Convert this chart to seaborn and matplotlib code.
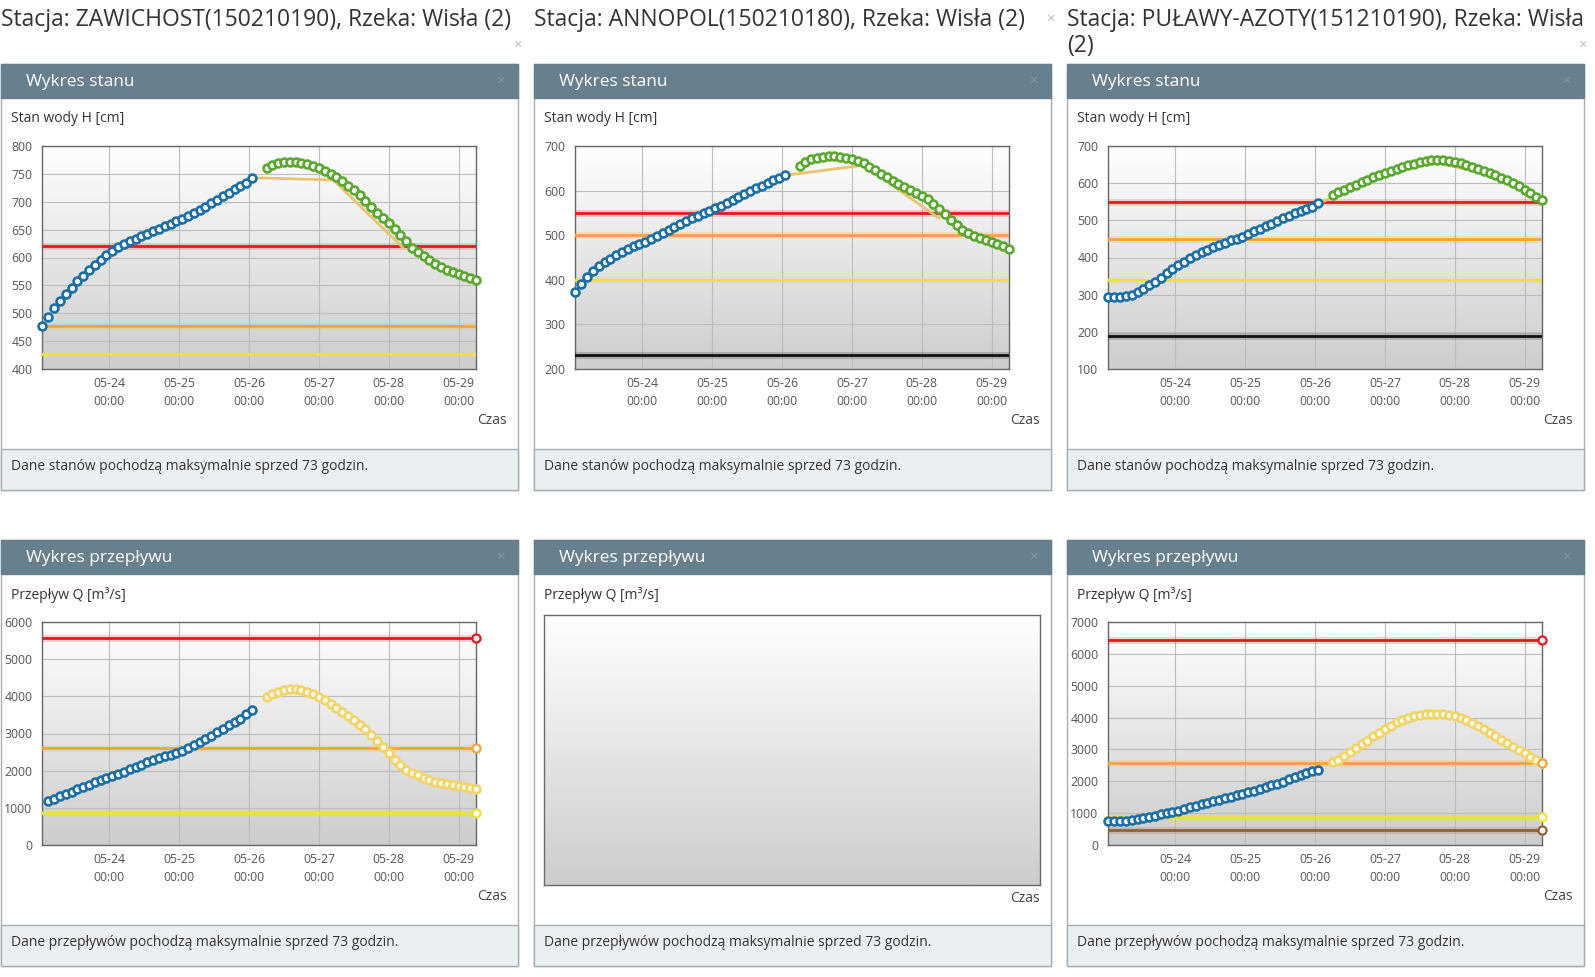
import numpy as np
import pandas as pd
import matplotlib
matplotlib.use("Agg")
import matplotlib.pyplot as plt
from matplotlib.patches import Rectangle
from matplotlib.colors import LinearSegmentedColormap
import seaborn as sns

sns.set_theme(style="white")
plt.rcParams['font.family'] = ['Open Sans', 'DejaVu Sans']

# ------------------------------
# Data (2-hourly samples, hours since 05-23 00:00)
# ------------------------------
T0 = pd.Timestamp("2019-05-23 00:00")
x_start = pd.Timestamp("2019-05-23 00:50")
x_end = pd.Timestamp("2019-05-29 06:00")
day_ticks = pd.date_range("2019-05-24", periods=6, freq="D")

stations = [
    "Stacja: ZAWICHOST(150210190), Rzeka: Wisła (2)",
    "Stacja: ANNOPOL(150210180), Rzeka: Wisła (2)",
    "Stacja: PUŁAWY-AZOTY(151210190), Rzeka: Wisła\n(2)",
]

# water level H [cm]
zaw_h_obs = [477, 493, 510, 522, 534, 546, 558, 567, 577, 587, 596, 604, 611,
             618, 624, 629, 634, 639, 643, 648, 652, 656, 660, 665, 669, 674,
             679, 685, 691, 697, 703, 710, 716, 722, 728, 734, 742]
zaw_h_fc = [760, 766, 770, 771, 772, 772, 770, 767, 764, 760, 755, 750, 744,
            737, 729, 721, 712, 701, 691, 680, 670, 662, 651, 640, 629, 617,
            609, 602, 595, 589, 583, 578, 574, 571, 567, 563, 560]
zaw_h_old_hours = [74, 101, 125]
zaw_h_old = [743, 739, 617]
zaw_h_levels = [620, 478, 427]

ann_h_obs = [372, 390, 407, 419, 430, 439, 447, 455, 462, 469, 475, 480, 485,
             492, 498, 505, 512, 519, 525, 532, 538, 544, 550, 555, 560, 566,
             572, 578, 585, 592, 599, 605, 611, 617, 623, 629, 635]
ann_h_fc = [655, 664, 670, 674, 676, 677, 677, 676, 674, 671, 667, 661, 654,
            646, 638, 630, 622, 614, 607, 601, 595, 589, 581, 571, 559, 547,
            534, 522, 512, 504, 498, 493, 489, 485, 480, 475, 470]
ann_h_old_hours = [74, 100, 126]
ann_h_old = [635, 657, 538]
ann_h_levels = [550, 500, 400, 232]

pul_h_obs = [295, 294, 294, 296, 300, 307, 316, 325, 335, 346, 357, 368, 379,
             389, 398, 406, 414, 421, 428, 434, 440, 446, 451, 456, 462, 470,
             477, 484, 491, 499, 506, 513, 519, 525, 531, 536, 546]
pul_h_fc = [568, 575, 582, 589, 596, 603, 609, 616, 622, 628, 633, 639, 644,
            648, 652, 656, 659, 661, 662, 661, 659, 656, 653, 648, 643, 638,
            633, 627, 621, 615, 609, 601, 592, 582, 573, 564, 555]
pul_h_old_hours = [74, 78, 96, 113, 132, 150]
pul_h_old = [548, 562, 624, 657, 622, 552]
pul_h_levels = [550, 451, 340, 188]

# discharge Q [m3/s]
zaw_q_obs = [1180, 1240, 1320, 1365, 1420, 1495, 1555, 1620, 1685, 1740, 1795,
             1845, 1920, 1975, 2040, 2100, 2160, 2225, 2280, 2330, 2385, 2430,
             2480, 2530, 2600, 2680, 2760, 2840, 2930, 3030, 3130, 3230, 3300,
             3400, 3520, 3640]
zaw_q_fc = [3980, 4070, 4130, 4170, 4190, 4195, 4170, 4130, 4070, 3990, 3900,
            3800, 3690, 3580, 3470, 3350, 3230, 3110, 2960, 2800, 2640, 2470,
            2290, 2140, 2030, 1945, 1870, 1800, 1745, 1700, 1670, 1640, 1610,
            1580, 1555, 1530, 1505]
zaw_q_levels = [5580, 2600, 850]

pul_q_obs = [740, 740, 745, 760, 785, 815, 850, 885, 920, 960, 1000, 1040, 1080,
             1130, 1180, 1230, 1280, 1330, 1380, 1420, 1460, 1500, 1560, 1610,
             1660, 1710, 1760, 1810, 1870, 1930, 1990, 2060, 2120, 2190, 2250,
             2310, 2360]
pul_q_fc = [2600, 2680, 2790, 2910, 3030, 3160, 3280, 3410, 3530, 3640, 3750,
            3850, 3930, 3990, 4040, 4075, 4100, 4120, 4120, 4100, 4070, 4040,
            3990, 3920, 3840, 3740, 3630, 3520, 3420, 3310, 3200, 3090, 2980,
            2880, 2770, 2660, 2570]
pul_q_levels = [6440, 2570, 890, 480]

# ------------------------------
# Colours
# ------------------------------
BLUE = "#1b6ea6"
GREEN = "#5aa92f"
FC_YELLOW = "#f1d46a"
TAN = "#e9c36e"
level_colors = ["#e31b1f", "#f2a53a", "#ede23c", "#111111"]
q_level_colors = ["#e31b1f", "#f2a53a", "#ede23c", "#8f6238"]
HEADER = "#687f8d"
FOOTER = "#eceff1"
BORDER = "#a4aeb5"
TEXT = "#333333"

W, H = 1595, 977
fig = plt.figure(figsize=(W / 100, H / 100), dpi=100)
fig.patch.set_facecolor("white")

pane = fig.add_axes([0, 0, 1, 1], zorder=0)
pane.set_xlim(0, W)
pane.set_ylim(H, 0)
pane.axis("off")

grad_cmap = LinearSegmentedColormap.from_list("bg", ["#ffffff", "#cdcdcd"])
grad = np.linspace(0, 1, 256).reshape(-1, 1)

PANEL_X = [0, 533, 1066]
PANEL_W = 518


def frect(x0, y0, x1, y1):
    return [x0 / W, 1 - y1 / H, (x1 - x0) / W, (y1 - y0) / H]


def to_time(start_h, n):
    return T0 + pd.to_timedelta(start_h + 2 * np.arange(n), unit="h")


def draw_panel(px, top, header, label, footer):
    pane.add_patch(Rectangle((px + 0.5, top), PANEL_W - 1, 426, fc="white",
                             ec=BORDER, lw=1))
    pane.add_patch(Rectangle((px + 0.5, top), PANEL_W - 1, 34, fc=HEADER, ec=HEADER, lw=1))
    pane.add_patch(Rectangle((px + 0.5, top + 385), PANEL_W - 1, 41, fc=FOOTER,
                             ec=BORDER, lw=1))
    pane.text(px + 26, top + 18, header, color="white", fontsize=12.4, va="center")
    pane.text(px + 500, top + 17, "×", color="#8698a4", fontsize=11, va="center", ha="center")
    pane.text(px + 11, top + 55, label, color=TEXT, fontsize=10, va="center")
    pane.text(px + 11, top + 403, footer, color=TEXT, fontsize=10, va="center")


def style_axes(ax, ylim, ystep):
    ax.set_xlim(x_start, x_end)
    ax.set_ylim(*ylim)
    ax.set_yticks(np.arange(ylim[0], ylim[1] + 1, ystep))
    ax.set_xticks(day_ticks)
    ax.set_xticklabels([d.strftime("%m-%d\n%H:%M") for d in day_ticks], linespacing=1.45)
    ax.grid(True, color="#bcbcbc", lw=0.8)
    ax.set_axisbelow(True)
    ax.tick_params(length=0, labelsize=8.8, labelcolor="#555555")
    ax.tick_params(axis="y", pad=7)
    ax.tick_params(axis="x", pad=6)
    for s in ax.spines.values():
        s.set_color("#666666")
        s.set_linewidth(1)
    ax.set_xlabel("")
    ax.set_ylabel("")


def draw_chart(px, top, obs, obs_start, fc, fc_edge, fc_face, levels, colors,
               ylim, ystep, old_hours=None, old=None, end_marks=False):
    rect = frect(px + 42, top + 82, px + 476, top + 305)
    bg = fig.add_axes(rect, zorder=1)
    bg.imshow(grad, aspect="auto", cmap=grad_cmap, extent=[0, 1, 0, 1])
    bg.axis("off")
    ax = fig.add_axes(rect, zorder=2)
    ax.patch.set_alpha(0)

    for v, c in zip(levels, colors):
        ax.axhline(v, color=c, lw=5, alpha=0.18, zorder=3)
        ax.axhline(v, color=c, lw=2, zorder=3)
        if end_marks:
            sns.scatterplot(x=[x_end], y=[v], ax=ax, marker="o", s=34, color="white",
                            edgecolor=c, linewidth=1.6, zorder=7, clip_on=False, legend=False)

    if old is not None:
        t_old = T0 + pd.to_timedelta(old_hours, unit="h")
        sns.lineplot(x=t_old, y=old, ax=ax, color=TAN, lw=2, zorder=4)

    t_obs = to_time(obs_start, len(obs))
    t_fc = to_time(78, len(fc))
    sns.scatterplot(x=t_fc, y=fc, ax=ax, marker="o", s=32, color=fc_face,
                    edgecolor=fc_edge, linewidth=1.9, zorder=5, clip_on=False, legend=False)
    sns.scatterplot(x=t_obs, y=obs, ax=ax, marker="o", s=32, color="white",
                    edgecolor=BLUE, linewidth=1.9, zorder=6, clip_on=False, legend=False)
    style_axes(ax, ylim, ystep)
    pane.text(px + 507, top + 356, "Czas", color="#444444", fontsize=10,
              va="center", ha="right")


# ------------------------------
# Station titles
# ------------------------------
for px, name in zip(PANEL_X, stations):
    for i, line in enumerate(name.split("\n")):
        pane.text(px + 1, 20 + 26 * i, line, color=TEXT, fontsize=16.5, va="center")
pane.text(517, 45, "×", color="#bbbbbb", fontsize=11, ha="center", va="center")
pane.text(1050, 19, "×", color="#bbbbbb", fontsize=11, ha="center", va="center")
pane.text(1582, 45, "×", color="#bbbbbb", fontsize=11, ha="center", va="center")

# ------------------------------
# Water level panels
# ------------------------------
TOP1, TOP2 = 64, 540
h_footer = "Dane stanów pochodzą maksymalnie sprzed 73 godzin."
q_footer = "Dane przepływów pochodzą maksymalnie sprzed 73 godzin."
for px in PANEL_X:
    draw_panel(px, TOP1, "Wykres stanu", "Stan wody H [cm]", h_footer)
    draw_panel(px, TOP2, "Wykres przepływu", "Przepływ Q [m³/s]", q_footer)

draw_chart(PANEL_X[0], TOP1, zaw_h_obs, 1, zaw_h_fc, GREEN, "white", zaw_h_levels,
           level_colors, (400, 800), 50, zaw_h_old_hours, zaw_h_old)
draw_chart(PANEL_X[1], TOP1, ann_h_obs, 1, ann_h_fc, GREEN, "white", ann_h_levels,
           level_colors, (200, 700), 100, ann_h_old_hours, ann_h_old)
draw_chart(PANEL_X[2], TOP1, pul_h_obs, 1, pul_h_fc, GREEN, "white", pul_h_levels,
           level_colors, (100, 700), 100, pul_h_old_hours, pul_h_old)

# ------------------------------
# Discharge panels
# ------------------------------
draw_chart(PANEL_X[0], TOP2, zaw_q_obs, 3, zaw_q_fc, FC_YELLOW, "#fffbe8", zaw_q_levels,
           q_level_colors, (0, 6000), 1000, end_marks=True)
draw_chart(PANEL_X[2], TOP2, pul_q_obs, 1, pul_q_fc, FC_YELLOW, "#fffbe8", pul_q_levels,
           q_level_colors, (0, 7000), 1000, end_marks=True)

# empty discharge chart for ANNOPOL
empty = fig.add_axes(frect(PANEL_X[1] + 11, TOP2 + 75, PANEL_X[1] + 507, TOP2 + 345), zorder=1)
empty.imshow(grad, aspect="auto", cmap=grad_cmap, extent=[0, 1, 0, 1])
empty.set_xticks([])
empty.set_yticks([])
for s in empty.spines.values():
    s.set_color("#6a6a6a")
    s.set_linewidth(1)
pane.text(PANEL_X[1] + 507, TOP2 + 358, "Czas", color="#444444", fontsize=10,
          va="center", ha="right")

fig.savefig("out.png", dpi=100)
